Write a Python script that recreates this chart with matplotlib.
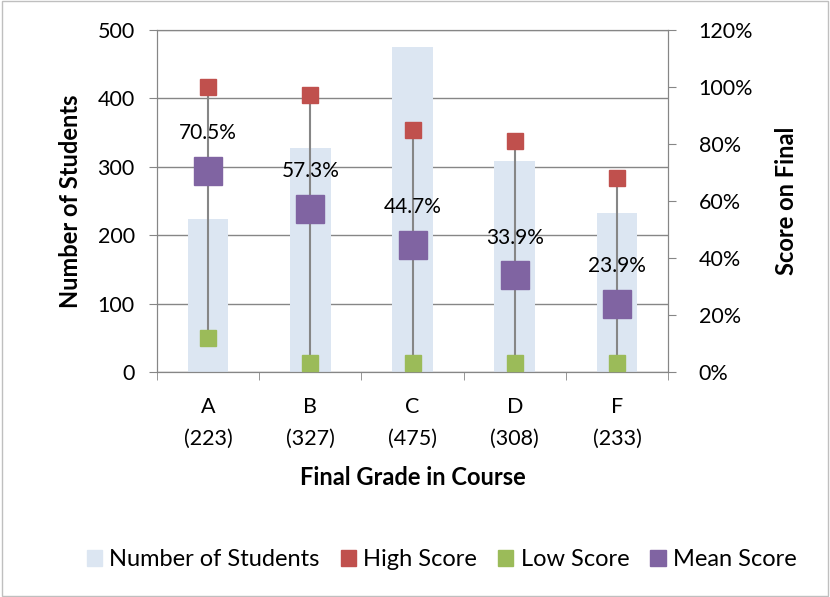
import matplotlib.pyplot as plt
from matplotlib.patches import Patch, Rectangle
from matplotlib.ticker import FuncFormatter, MultipleLocator

plt.rcParams['font.family'] = ['Lato', 'DejaVu Sans']

grades = ["A", "B", "C", "D", "F"]
students = [223, 327, 475, 308, 233]
high_score = [100, 97, 85, 81, 68]
low_score = [12, 3, 3, 3, 3]
mean_score = [70.5, 57.3, 44.7, 33.9, 23.9]

c_bar = "#DCE6F2"
c_high = "#C0504D"
c_low = "#9BBB59"
c_mean = "#8064A2"
c_axis = "#868686"

fig = plt.figure(figsize=(8.3, 5.97), dpi=100)
fig.patches.append(Rectangle((0.002, 0.002), 0.996, 0.996, transform=fig.transFigure,
                             fill=False, edgecolor="#BFBFBF", linewidth=1))
ax = fig.add_axes([0.189, 0.377, 0.616, 0.573])
x = list(range(len(grades)))

# barras de alunos no eixo esquerdo
ax.bar(x, students, width=0.4, color=c_bar, zorder=2)
ax.set_ylim(0, 500)
ax.set_xlim(-0.5, len(grades) - 0.5)
ax.yaxis.set_major_locator(MultipleLocator(100))
ax.grid(axis='y', color=c_axis, linewidth=1, zorder=1)
ax.set_axisbelow(True)
ax.set_xticks(x)
ax.set_xticklabels([f"{g}\n({n})" for g, n in zip(grades, students)], fontsize=15.5,
                   linespacing=1.75)
ax.set_xticks([i - 0.5 for i in range(len(grades) + 1)], minor=True)
ax.tick_params(axis='x', which='major', length=0, pad=18)
ax.tick_params(axis='x', which='minor', length=6, color=c_axis)
ax.tick_params(axis='y', labelsize=15.5, color=c_axis, length=6, pad=10)
ax.set_xlabel("Final Grade in Course", fontsize=17, fontweight='bold', labelpad=12)
ax.set_ylabel("Number of Students", fontsize=17, fontweight='bold', labelpad=11)
for s in ax.spines.values():
    s.set_color(c_axis)

# notas no eixo direito
ax2 = ax.twinx()
ax2.set_ylim(0, 120)
ax2.yaxis.set_major_locator(MultipleLocator(20))
ax2.yaxis.set_major_formatter(FuncFormatter(lambda v, p: f"{v:.0f}%"))
ax2.tick_params(axis='y', labelsize=15.5, color=c_axis, length=6, pad=16)
ax2.set_ylabel("Score on Final", fontsize=17, fontweight='bold', labelpad=16)
for s in ax2.spines.values():
    s.set_color(c_axis)

for i in x:
    ax2.plot([i, i], [low_score[i], high_score[i]], color=c_axis, linewidth=1.5, zorder=2)
ax2.plot(x, high_score, 's', color=c_high, markersize=11, linestyle='none', zorder=3)
ax2.plot(x, low_score, 's', color=c_low, markersize=11, linestyle='none', zorder=3)
ax2.plot(x, mean_score, 's', color=c_mean, markersize=20, linestyle='none', zorder=4)
for i in x:
    ax2.annotate(f"{mean_score[i]:.1f}%", (i, mean_score[i]), xytext=(0, 27),
                 textcoords='offset points', ha='center', va='center', fontsize=15)

handles = [Patch(color=c_bar, label="Number of Students"),
           Patch(color=c_high, label="High Score"),
           Patch(color=c_low, label="Low Score"),
           Patch(color=c_mean, label="Mean Score")]
fig.legend(handles=handles, loc='center', bbox_to_anchor=(0.532, 0.062), ncol=4,
           frameon=False, fontsize=17, handlelength=0.65, handleheight=0.65,
           handletextpad=0.3, columnspacing=0.9)

plt.savefig("out.png", dpi=100)
